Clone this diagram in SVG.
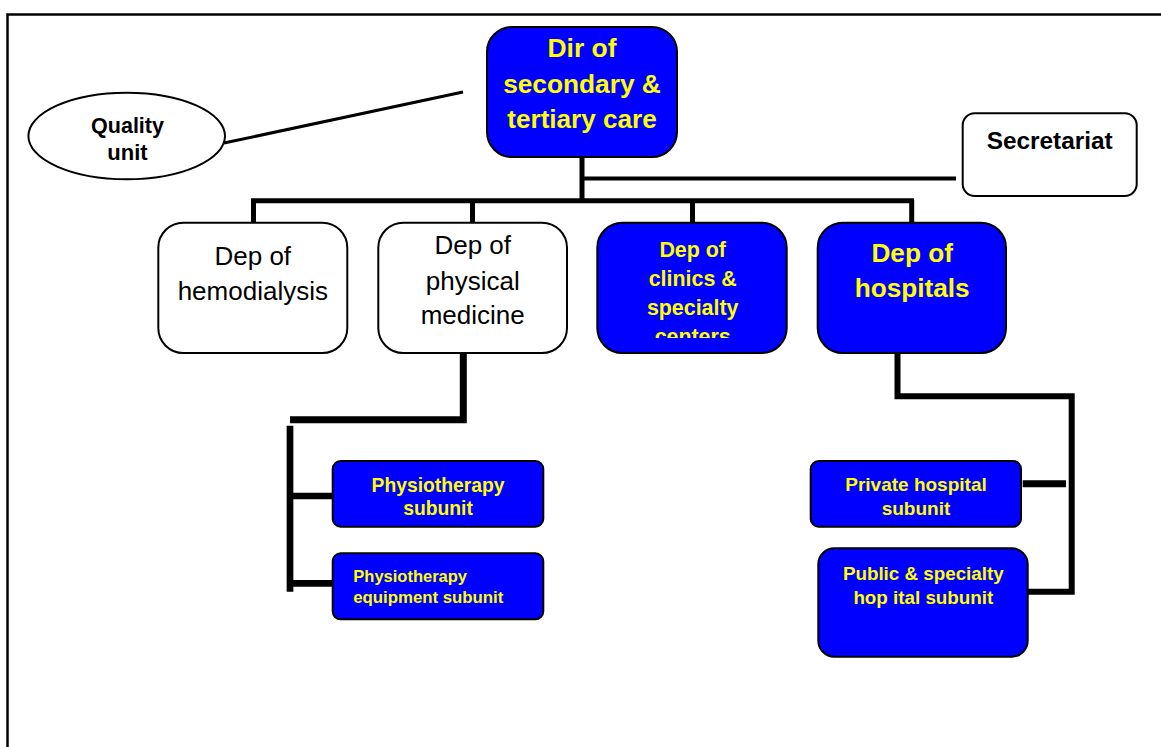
<svg xmlns="http://www.w3.org/2000/svg" width="1161" height="747" viewBox="0 0 1161 747">
<defs>
<style>
.frame{fill:none;stroke:#000;stroke-width:2.5}
.blue{fill:#0000FF;stroke:#000;stroke-width:2}
.white{fill:#fff;stroke:#000;stroke-width:2}
.ln{fill:none;stroke:#000;stroke-linecap:butt}
.tb{font-family:"Liberation Sans",Arial,sans-serif;font-weight:bold;fill:#000;text-anchor:middle}
.tr{font-family:"Liberation Sans",Arial,sans-serif;fill:#000;text-anchor:middle}
.ty{font-family:"Liberation Sans",Arial,sans-serif;font-weight:bold;fill:#FFFF00;text-anchor:middle}
</style>
<clipPath id="clinClip"><rect x="598" y="224" width="188" height="114"/></clipPath>
</defs>
<rect width="1161" height="747" fill="#fff"/>
<rect class="frame" x="7.5" y="14.5" width="1170" height="760"/>

<g id="connectors">
  <line class="ln" x1="224" y1="143" x2="463" y2="92" stroke-width="3"/>
  <line class="ln" x1="582" y1="157" x2="582" y2="203" stroke-width="5"/>
  <line class="ln" x1="582" y1="178.5" x2="956" y2="178.5" stroke-width="4"/>
  <line class="ln" x1="251" y1="200.8" x2="914" y2="200.8" stroke-width="5"/>
  <line class="ln" x1="253.5" y1="200" x2="253.5" y2="223" stroke-width="5"/>
  <line class="ln" x1="472.5" y1="200" x2="472.5" y2="223" stroke-width="5"/>
  <line class="ln" x1="692.5" y1="200" x2="692.5" y2="223" stroke-width="5"/>
  <line class="ln" x1="911.7" y1="200" x2="911.7" y2="223" stroke-width="5"/>
  <polyline class="ln" points="463.3,353 463.3,419.7 290,419.7" stroke-width="7"/>
  <line class="ln" x1="290" y1="425.7" x2="290" y2="591.7" stroke-width="6.7"/>
  <line class="ln" x1="290" y1="496" x2="333" y2="496" stroke-width="6.7"/>
  <line class="ln" x1="290" y1="583.3" x2="333" y2="583.3" stroke-width="6.7"/>
  <polyline class="ln" points="897.5,353 897.5,396.3 1071.7,396.3 1071.7,591.7 1028,591.7" stroke-width="6"/>
  <line class="ln" x1="1022.7" y1="483.7" x2="1066" y2="483.7" stroke-width="7"/>
</g>

<g id="quality">
  <ellipse class="white" cx="126.7" cy="136" rx="98.3" ry="43.3"/>
  <text class="tb" x="127.5" y="133.3" font-size="22" textLength="73" lengthAdjust="spacingAndGlyphs">Quality</text>
  <text class="tb" x="127.5" y="160" font-size="22">unit</text>
</g>

<g id="dir">
  <rect class="blue" x="487" y="27" width="190" height="130" rx="25"/>
  <text class="ty" x="582" y="57.3" font-size="25" textLength="69" lengthAdjust="spacingAndGlyphs">Dir of</text>
  <text class="ty" x="582" y="93" font-size="25" textLength="157.7" lengthAdjust="spacingAndGlyphs">secondary &amp;</text>
  <text class="ty" x="582" y="128.3" font-size="25" textLength="149.3" lengthAdjust="spacingAndGlyphs">tertiary care</text>
</g>

<g id="secretariat">
  <rect class="white" x="962.7" y="113.3" width="174" height="82.7" rx="12"/>
  <text class="tb" x="1049.7" y="149" font-size="23.5" textLength="126" lengthAdjust="spacingAndGlyphs">Secretariat</text>
</g>

<g id="hemodialysis">
  <rect class="white" x="158.3" y="222.7" width="189" height="130.3" rx="25"/>
  <text class="tr" x="252.8" y="265" font-size="26">Dep of</text>
  <text class="tr" x="252.8" y="300" font-size="26">hemodialysis</text>
</g>

<g id="physmed">
  <rect class="white" x="378.3" y="222.7" width="188.7" height="130.3" rx="25"/>
  <text class="tr" x="472.7" y="254.3" font-size="26">Dep of</text>
  <text class="tr" x="472.7" y="290" font-size="26">physical</text>
  <text class="tr" x="472.7" y="324.3" font-size="26">medicine</text>
</g>

<g id="clinics">
  <rect class="blue" x="597.3" y="222.7" width="189.4" height="130.3" rx="25"/>
  <g clip-path="url(#clinClip)">
    <text class="ty" x="692.7" y="256.7" font-size="21.4">Dep of</text>
    <text class="ty" x="692.7" y="286" font-size="21.4">clinics &amp;</text>
    <text class="ty" x="692.7" y="315" font-size="21.4">specialty</text>
    <text class="ty" x="692.7" y="344" font-size="21.4">centers</text>
  </g>
</g>

<g id="hospitals">
  <rect class="blue" x="817.7" y="222.7" width="188.3" height="130.3" rx="25"/>
  <text class="ty" x="912.2" y="261.7" font-size="26.2">Dep of</text>
  <text class="ty" x="912.2" y="297" font-size="26.2">hospitals</text>
</g>

<g id="physio">
  <rect class="blue" x="332.7" y="461" width="210.6" height="65.7" rx="8"/>
  <text class="ty" x="438" y="491.7" font-size="19.3">Physiotherapy</text>
  <text class="ty" x="438" y="515" font-size="19.3">subunit</text>
</g>

<g id="physioequip">
  <rect class="blue" x="332.7" y="553.3" width="210.6" height="66" rx="8"/>
  <text class="ty" x="353.3" y="581.7" font-size="16.5" style="text-anchor:start">Physiotherapy</text>
  <text class="ty" x="353.3" y="603.3" font-size="16.5" style="text-anchor:start" textLength="150" lengthAdjust="spacingAndGlyphs">equipment subunit</text>
</g>

<g id="private">
  <rect class="blue" x="810.7" y="461" width="210.3" height="65.7" rx="8"/>
  <text class="ty" x="916" y="491" font-size="19">Private hospital</text>
  <text class="ty" x="916" y="515" font-size="19">subunit</text>
</g>

<g id="public">
  <rect class="blue" x="818.3" y="548.3" width="209.4" height="108.4" rx="16"/>
  <text class="ty" x="923.3" y="580" font-size="18.8">Public &amp; specialty</text>
  <text class="ty" x="923.3" y="604" font-size="18.8">hop ital subunit</text>
</g>
</svg>
